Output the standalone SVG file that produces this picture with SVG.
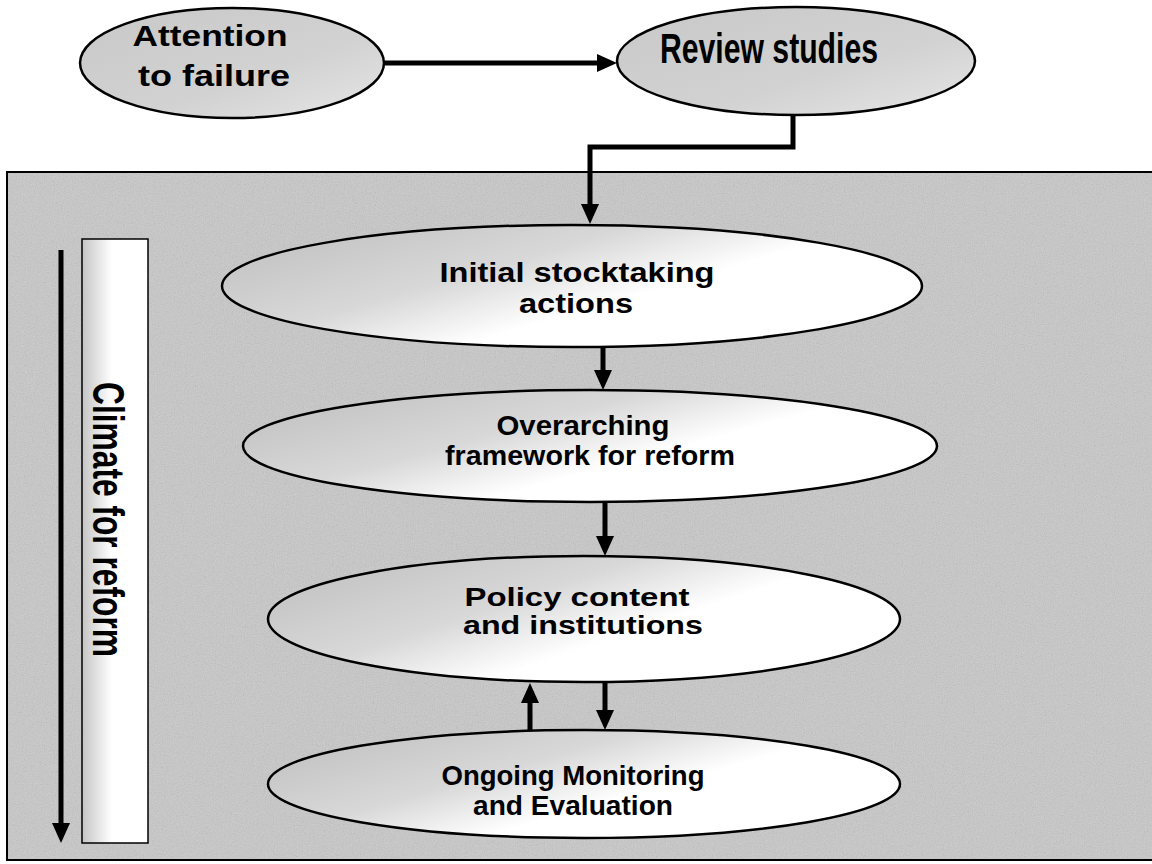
<svg xmlns="http://www.w3.org/2000/svg" width="1152" height="864" viewBox="0 0 1152 864">
  <style>
    .node { stroke: #000; stroke-width: 2.5; }
    .lbl { font-family: "Liberation Sans", Arial, sans-serif; font-weight: bold; fill: #000; text-anchor: middle; }
    .conn { fill: none; stroke: #000; stroke-width: 5; marker-end: url(#ah); }
  </style>
  <defs>
    <marker id="ah" markerUnits="userSpaceOnUse" markerWidth="22" markerHeight="20" refX="2" refY="9" orient="auto" viewBox="0 0 22 20">
      <path d="M0,0 L20,9 L0,18 Z" fill="#000"/>
    </marker>
    <linearGradient id="gTop" x1="0" y1="0" x2="1" y2="1">
      <stop offset="0" stop-color="#c8c8c8"/>
      <stop offset="0.6" stop-color="#d2d2d2"/>
      <stop offset="1" stop-color="#e6e6e6"/>
    </linearGradient>
    <linearGradient id="gInner" x1="0" y1="0.2" x2="1" y2="0.8">
      <stop offset="0" stop-color="#c2c2c2"/>
      <stop offset="0.35" stop-color="#d8d8d8"/>
      <stop offset="0.6" stop-color="#ffffff"/>
      <stop offset="1" stop-color="#ffffff"/>
    </linearGradient>
    <linearGradient id="gBar" x1="0" y1="0" x2="1" y2="0">
      <stop offset="0" stop-color="#c4c4c4"/>
      <stop offset="0.45" stop-color="#ffffff"/>
      <stop offset="1" stop-color="#ffffff"/>
    </linearGradient>
    <filter id="grain" x="0" y="0" width="100%" height="100%">
      <feTurbulence type="fractalNoise" baseFrequency="0.9" numOctaves="2" seed="3" result="n"/>
      <feColorMatrix type="saturate" values="0"/>
      <feComponentTransfer>
        <feFuncA type="table" tableValues="0 0.35"/>
      </feComponentTransfer>
      <feComposite in2="SourceGraphic" operator="in"/>
    </filter>
  </defs>

  <rect width="1152" height="864" fill="#ffffff"/>

  <g id="panel">
    <rect x="7" y="172" width="1150" height="688" fill="#c8c8c8" stroke="#000" stroke-width="2"/>
    <rect x="8" y="173" width="1144" height="686" fill="#000" filter="url(#grain)"/>
  </g>

  <g id="climate">
    <rect x="82" y="239" width="66" height="604" fill="url(#gBar)" stroke="#000" stroke-width="1.5"/>
    <text class="lbl" font-size="44" textLength="275" lengthAdjust="spacingAndGlyphs" transform="translate(93,519.5) rotate(90)">Climate for reform</text>
  </g>

  <g id="connectors">
    <line class="conn" x1="385" y1="63" x2="599" y2="63"/>
    <polyline class="conn" points="793,115 793,147 590,147 590,206"/>
    <line class="conn" x1="603" y1="347" x2="603" y2="372"/>
    <line class="conn" x1="605" y1="502" x2="605" y2="538"/>
    <line class="conn" x1="605" y1="682" x2="605" y2="712"/>
    <line class="conn" x1="530" y1="730" x2="530" y2="701"/>
    <line class="conn" x1="61" y1="250" x2="61" y2="825" stroke-width="6"/>
  </g>

  <g id="attention">
    <ellipse class="node" cx="232" cy="63" rx="152" ry="55" fill="url(#gTop)"/>
    <text class="lbl" font-size="30" x="210" y="46" textLength="155" lengthAdjust="spacingAndGlyphs">Attention</text>
    <text class="lbl" font-size="30" x="214" y="86" textLength="152" lengthAdjust="spacingAndGlyphs">to failure</text>
  </g>

  <g id="review">
    <ellipse class="node" cx="796" cy="61" rx="179" ry="54" fill="url(#gTop)"/>
    <text class="lbl" font-size="43" x="769" y="63" textLength="218" lengthAdjust="spacingAndGlyphs">Review studies</text>
  </g>

  <g id="initial">
    <ellipse class="node" cx="572" cy="286" rx="350" ry="61" fill="url(#gInner)"/>
    <text class="lbl" font-size="28" x="577" y="282" textLength="275" lengthAdjust="spacingAndGlyphs">Initial stocktaking</text>
    <text class="lbl" font-size="28" x="576" y="313" textLength="114" lengthAdjust="spacingAndGlyphs">actions</text>
  </g>

  <g id="overarching">
    <ellipse class="node" cx="590" cy="446" rx="347" ry="56" fill="url(#gInner)"/>
    <text class="lbl" font-size="27" x="583" y="435" textLength="173" lengthAdjust="spacingAndGlyphs">Overarching</text>
    <text class="lbl" font-size="27" x="590" y="465" textLength="290" lengthAdjust="spacingAndGlyphs">framework for reform</text>
  </g>

  <g id="policy">
    <ellipse class="node" cx="584" cy="619" rx="316" ry="63" fill="url(#gInner)"/>
    <text class="lbl" font-size="26" x="577" y="606" textLength="225" lengthAdjust="spacingAndGlyphs">Policy content</text>
    <text class="lbl" font-size="26" x="583" y="634" textLength="240" lengthAdjust="spacingAndGlyphs">and institutions</text>
  </g>

  <g id="ongoing">
    <ellipse class="node" cx="584" cy="784" rx="316" ry="54" fill="url(#gInner)"/>
    <text class="lbl" font-size="28" x="573" y="785" textLength="263" lengthAdjust="spacingAndGlyphs">Ongoing Monitoring</text>
    <text class="lbl" font-size="28" x="573" y="815" textLength="200" lengthAdjust="spacingAndGlyphs">and Evaluation</text>
  </g>
</svg>
